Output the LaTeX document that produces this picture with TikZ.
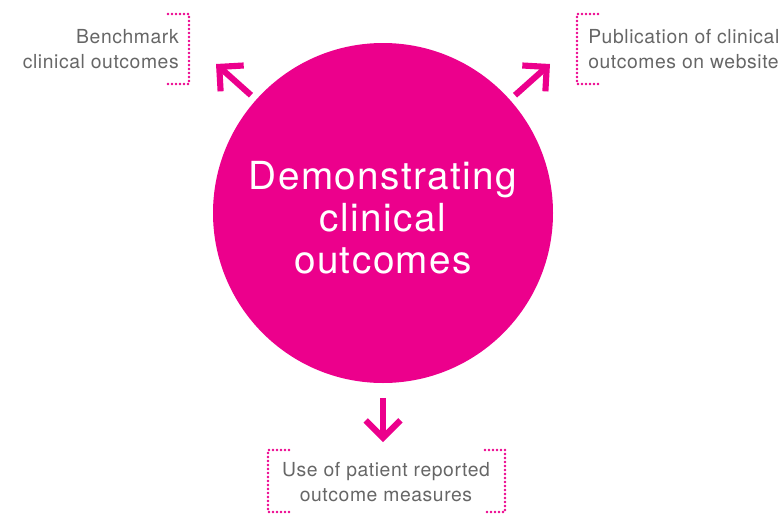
\documentclass[tikz,border=0pt]{standalone}
\usepackage{fontspec}
\setmainfont{TeX Gyre Heros}
\newfontfamily\spacedfont[LetterSpace=3]{TeX Gyre Heros}
\newfontfamily\titlefont[LetterSpace=3.8]{TeX Gyre Heros}
\usetikzlibrary{arrows.meta}

\definecolor{brandpink}{HTML}{EC008C}
\definecolor{notegrey}{HTML}{666666}

\tikzset{
	note/.style={text=notegrey, inner sep=0pt,
		font=\spacedfont\fontsize{14.5}{18.75}\selectfont},
	bracket/.style={draw=brandpink, line width=2pt, line cap=round,
		dash pattern=on 0pt off 3pt},
	pointer/.style={draw=brandpink, line width=4.6pt, line join=miter,
		-{Straight Barb[length=13pt, width=26pt]}}
}

\begin{document}
\begin{tikzpicture}[x=0.75pt, y=-0.75pt]
	\useasboundingbox (0,0) rectangle (782,514);
	% hub
	\node at (383,213) (hub) [circle, fill=brandpink, minimum size=255pt] {};
	\node at (383,273) (title) [anchor=base, inner sep=0pt, text=white, align=center,
		font=\titlefont\fontsize{29}{31.5}\selectfont] {Demonstrating\\clinical\\outcomes};
	% the three outcomes
	\node at (179,68) (bench) [note, anchor=base east, align=right] {Benchmark\\clinical outcomes};
	\node at (588,68) (publish) [note, anchor=base west, align=left] {Publication of clinical\\outcomes on website};
	\node at (386,501) (prom) [note, anchor=base, align=center] {Use of patient reported\\outcome measures};
	% arrow tips
	\coordinate (nwTip) at (216,64);
	\coordinate (neTip) at (550,64);
	\coordinate (sTip) at (383,442);
	\draw[pointer, shorten <=5pt] (hub) -- (nwTip);
	\draw[pointer, shorten <=5pt] (hub) -- (neTip);
	\draw[pointer, shorten <=11pt] (hub) -- (sTip);
	% dotted brackets
	\draw[bracket] (168,14) -- (189,14) -- (189,84) -- (168,84);
	\draw[bracket] (598,14) -- (577,14) -- (577,84) -- (598,84);
	\draw[bracket] (289,450) -- (268,450) -- (268,512) -- (289,512);
	\draw[bracket] (485,450) -- (505,450) -- (505,512) -- (485,512);
\end{tikzpicture}
\end{document}
